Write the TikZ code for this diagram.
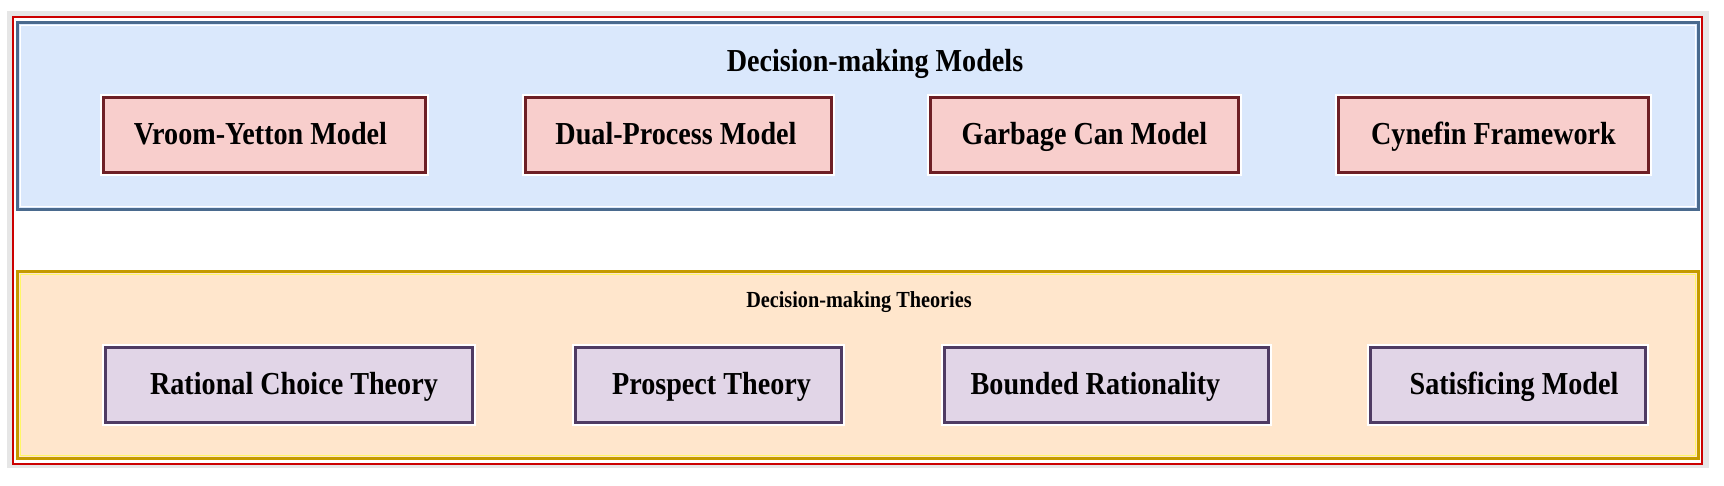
\documentclass[tikz,border=0pt]{standalone}
\usepackage{fontspec}
\setmainfont{Liberation Serif}
\newfontfamily\narrowserif[FakeStretch=0.88]{Liberation Serif}
\begin{document}
\begin{tikzpicture}[x=1pt,y=-1pt,
  redbox/.style={draw=boxred, line width=3.2pt, fill=boxredfill, inner sep=0pt,
    preaction={draw=white, line width=7pt}, minimum height=75pt},
  purplebox/.style={draw=boxpurple, line width=3.2pt, fill=boxpurplefill, inner sep=0pt,
    preaction={draw=white, line width=7pt}, minimum height=75pt},
  boxtext/.style={inner sep=0pt, anchor=base, font=\narrowserif\fontsize{32}{34}\selectfont\bfseries},
  paneltitle/.style={inner sep=0pt, anchor=base, font=\narrowserif\fontsize{32}{34}\selectfont\bfseries},
  panelsub/.style={inner sep=0pt, anchor=base, font=\narrowserif\fontsize{23}{25}\selectfont\bfseries}]
\definecolor{boxred}{HTML}{6E1F25}
\definecolor{boxredfill}{HTML}{F8CECC}
\definecolor{boxpurple}{HTML}{4F3B63}
\definecolor{boxpurplefill}{HTML}{E1D5E7}
\definecolor{bluefill}{HTML}{DAE8FC}
\definecolor{blueedge}{HTML}{4A6A8E}
\definecolor{orangefill}{HTML}{FFE6CC}
\definecolor{goldedge}{HTML}{C49A00}
\definecolor{frame}{HTML}{CC0000}
\definecolor{bggray}{HTML}{E6E6E6}
\useasboundingbox (0,0) rectangle (1724,485);
\fill[white] (0,0) rectangle (1724,485);
\fill[bggray] (7,11) rectangle (1709,468);
\draw[frame, line width=2pt, fill=white] (13,17) rectangle (1702,464);
% panels
\draw[blueedge, line width=3pt, fill=bluefill] (17.5,22.5) rectangle (1698.5,209.5);
\draw[white, line width=1.2pt] (20.5,25.5) rectangle (1695.5,206.5);
\draw[goldedge, line width=3pt, fill=orangefill] (17.5,271.5) rectangle (1698.5,458.5);
\draw[yellow!60!white, line width=1.2pt] (20.5,274.5) rectangle (1695.5,455.5);
\node[paneltitle] (t1) at (875,71) {Decision-making Models};
\node[panelsub] (t2) at (859,307) {Decision-making Theories};
% model boxes
\node[redbox, minimum width=322pt] (m1) at (264.5,135) {};
\node[redbox, minimum width=306pt] (m2) at (678.5,135) {};
\node[redbox, minimum width=308pt] (m3) at (1084.5,135) {};
\node[redbox, minimum width=310pt] (m4) at (1493.5,135) {};
\node[boxtext] (m1t) at ([xshift=-4pt,yshift=-9pt]m1.center) {Vroom-Yetton Model};
\node[boxtext] (m2t) at ([xshift=-2.5pt,yshift=-9pt]m2.center) {Dual-Process Model};
\node[boxtext] (m3t) at ([yshift=-9pt]m3.center) {Garbage Can Model};
\node[boxtext] (m4t) at ([yshift=-9pt]m4.center) {Cynefin Framework};
% theory boxes
\node[purplebox, minimum width=367pt] (h1) at (289,385) {};
\node[purplebox, minimum width=266pt] (h2) at (708.5,385) {};
\node[purplebox, minimum width=324pt] (h3) at (1106.5,385) {};
\node[purplebox, minimum width=275pt] (h4) at (1508,385) {};
\node[boxtext] (h1t) at ([xshift=5pt,yshift=-9pt]h1.center) {Rational Choice Theory};
\node[boxtext] (h2t) at ([xshift=3pt,yshift=-9pt]h2.center) {Prospect Theory};
\node[boxtext] (h3t) at ([xshift=-11pt,yshift=-9pt]h3.center) {Bounded Rationality};
\node[boxtext] (h4t) at ([xshift=6pt,yshift=-9pt]h4.center) {Satisficing Model};
\end{tikzpicture}
\end{document}
